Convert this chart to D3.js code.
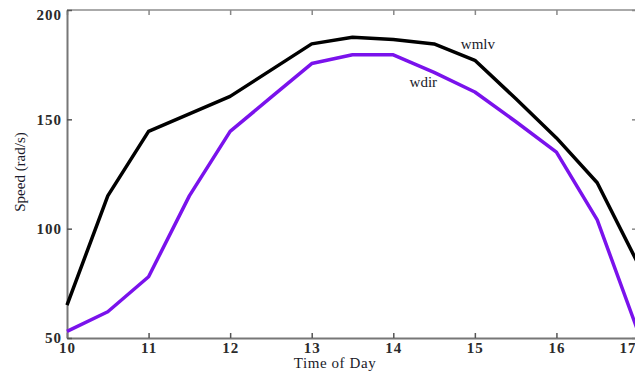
<!DOCTYPE html>
<html>
<head>
<meta charset="utf-8">
<script src="https://cdn.jsdelivr.net/npm/d3@7"></script>
<style>
  html, body { margin: 0; padding: 0; background: #fff; overflow: hidden; }
  svg { display: block; }
  text { font-family: "Liberation Serif", "DejaVu Serif", serif; }
</style>
</head>
<body>
<svg id="chart" width="635" height="376"></svg>
<script>
const hours = [10, 10.5, 11, 11.5, 12, 12.5, 13, 13.5, 14, 14.5, 15, 15.5, 16, 16.5, 17];
const wmlv  = [65, 115, 144.5, 152.5, 160.5, 172.5, 184.5, 187.5, 186.5, 184.5, 177, 159.5, 141.5, 121, 84];
const wdir  = [53, 62, 78, 115, 144.5, 160, 175.5, 179.5, 179.5, 171.5, 162.5, 149, 135, 104, 53];
const xTicks = [10, 11, 12, 13, 14, 15, 16, 17];
const yTicks = [50, 100, 150, 200];
const seriesNames = ["wmlv", "wdir"];

const svg = d3.select("#chart");
const mLeft = 67, mRight = 638, mTop = 10, mBottom = 338;

const x = d3.scaleLinear().domain([10, 17]).range([mLeft, mRight]);
const y = d3.scaleLinear().domain([50, 200]).range([mBottom, mTop]);

// box (top and right borders)
svg.append("line").attr("x1", mLeft).attr("x2", mRight).attr("y1", mTop).attr("y2", mTop)
  .attr("stroke", "#aaa").attr("stroke-width", 2);
svg.append("line").attr("x1", mRight).attr("x2", mRight).attr("y1", mTop).attr("y2", mBottom)
  .attr("stroke", "#aaa").attr("stroke-width", 2);

// right side inner ticks
svg.append("g").attr("transform", `translate(${mRight},0)`)
  .call(d3.axisRight(y).tickValues(yTicks).tickSize(-6).tickFormat(""))
  .call(g => g.select(".domain").remove())
  .call(g => g.selectAll("line").attr("stroke", "#888").attr("stroke-width", 1.5));
// top inner ticks
svg.append("g").attr("transform", `translate(0,${mTop})`)
  .call(d3.axisTop(x).tickValues(xTicks).tickSize(-5).tickFormat(""))
  .call(g => g.select(".domain").remove())
  .call(g => g.selectAll("line").attr("stroke", "#888").attr("stroke-width", 1.5));

// x axis
const gx = svg.append("g").attr("transform", `translate(0,${mBottom})`)
  .call(d3.axisBottom(x).tickValues(xTicks).tickSize(-5).tickPadding(4).tickSizeOuter(0).tickFormat(d3.format("d")));
gx.select(".domain").attr("stroke", "#777").attr("stroke-width", 2);
gx.selectAll(".tick line").attr("stroke", "#555").attr("stroke-width", 1.5);
gx.selectAll(".tick text").attr("font-size", 15).attr("font-weight", "bold").attr("fill", "#2a2a2a")
  .attr("font-family", "Liberation Serif, serif").attr("letter-spacing", 1);
gx.selectAll(".tick text").filter(d => d === 17).attr("text-anchor", "end").attr("dx", -2);

// y axis
const gy = svg.append("g").attr("transform", `translate(${mLeft},0)`)
  .call(d3.axisLeft(y).tickValues(yTicks).tickSize(-5).tickPadding(5).tickSizeOuter(0).tickFormat(d3.format("d")));
gy.select(".domain").attr("stroke", "#777").attr("stroke-width", 2);
gy.selectAll(".tick line").attr("stroke", "#555").attr("stroke-width", 1.5);
gy.selectAll(".tick text").attr("font-size", 15).attr("font-weight", "bold").attr("fill", "#2a2a2a")
  .attr("font-family", "Liberation Serif, serif").attr("letter-spacing", 1);
gy.selectAll(".tick text").filter(d => d === 200).attr("dy", "0.62em");

// lines
const line = d3.line().x((d, i) => x(hours[i])).y(d => y(d));
const plot = svg.append("g");
plot.append("path").datum(wmlv).attr("d", line)
  .attr("fill", "none").attr("stroke", "#000").attr("stroke-width", 3.5).attr("stroke-linejoin", "round");
plot.append("path").datum(wdir).attr("d", line)
  .attr("fill", "none").attr("stroke", "#7a12ec").attr("stroke-width", 3.5).attr("stroke-linejoin", "round");

// series labels
svg.append("text").attr("x", x(15) - 14).attr("y", y(182)).text(seriesNames[0])
  .attr("font-size", 15).attr("fill", "#1a1a2a");
svg.append("text").attr("x", x(14.2)).attr("y", y(165)).text(seriesNames[1])
  .attr("font-size", 15).attr("fill", "#1a1a2a");

// axis titles
svg.append("text").attr("x", 335).attr("y", 368).attr("text-anchor", "middle")
  .attr("font-size", 15).attr("fill", "#1a1a2a").attr("letter-spacing", 0.6).text("Time of Day");
svg.append("text").attr("transform", `translate(25,172) rotate(-90)`)
  .attr("text-anchor", "middle").attr("font-size", 15).attr("fill", "#1a1a2a").text("Speed (rad/s)");
</script>
</body>
</html>
